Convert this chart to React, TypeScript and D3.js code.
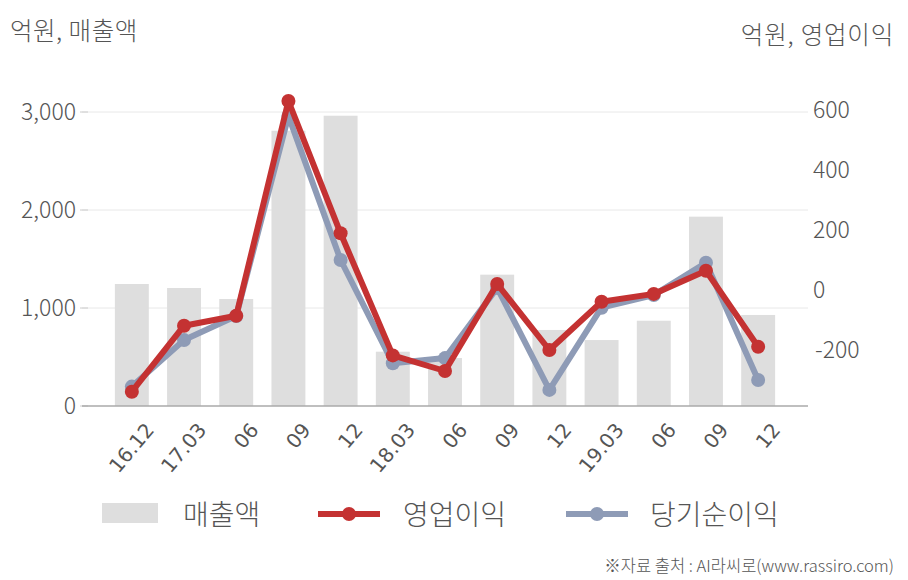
import React from "react";
import * as d3 from "d3";

const categories = ["16.12", "17.03", "06", "09", "12", "18.03", "06", "09", "12", "19.03", "06", "09", "12"];
const sales = [1245, 1204, 1092, 2809, 2962, 554, 490, 1340, 776, 673, 870, 1932, 929];
const opProfit = [-339, -119, -86, 630, 189, -218, -270, 20, -200, -39, -13, 64, -189];
const netProfit = [-322, -167, -87, 580, 100, -244, -227, 7, -333, -59, -17, 91, -300];
const leftTicks = [0, 1000, 2000, 3000];
const rightTicks = [-200, 0, 200, 400, 600];

const W = 908, H = 580;
const FONT = "'Noto Sans CJK KR', 'Noto Sans', sans-serif";
const TEXT = "#555";
const RED = "#c43232";
const BLUE = "#8e9bb6";
const BAR = "#dedede";

export default function App() {
  const x = d3.scaleBand<number>().domain(d3.range(categories.length)).range([82, 808]).paddingInner(0.35).paddingOuter(0.63);
  const yL = d3.scaleLinear().domain([0, 3000]).range([406, 112]);
  const yR = d3.scaleLinear().domain([0, 600]).range([290, 110]);
  const cx = (i: number) => (x(i) as number) + x.bandwidth() / 2;
  const lineR = d3.line<number>().x((_, i) => cx(i)).y((d) => yR(d));

  return (
    <svg width={W} height={H} style={{ position: "absolute", left: 0, top: 0, background: "#fff" }} fontFamily={FONT} fontWeight={300}>
      <text x={10} y={31} dy="0.35em" fontSize={24.5} letterSpacing={0.5} fill={TEXT}>억원, 매출액</text>
      <text x={894} y={35} dy="0.35em" fontSize={24.5} letterSpacing={0.8} fill={TEXT} textAnchor="end">억원, 영업이익</text>

      {leftTicks.map((t) => (
        <g key={"l" + t}>
          {t > 0 && <line x1={82} x2={808} y1={yL(t)} y2={yL(t)} stroke="#e8e8e8" strokeWidth={1} />}
          <line x1={80} x2={88} y1={yL(t)} y2={yL(t)} stroke="#ccc" strokeWidth={1} />
          <text x={76} y={yL(t)} dy="0.35em" fontSize={23} fill={TEXT} textAnchor="end">{d3.format(",")(t)}</text>
        </g>
      ))}
      {rightTicks.map((t) => (
        <text key={"r" + t} x={t < 0 ? 815 : 813} y={yR(t)} dy="0.35em" fontSize={23} fill={TEXT}>{t}</text>
      ))}

      {sales.map((v, i) => (
        <rect key={"b" + i} x={x(i)} y={yL(v)} width={x.bandwidth()} height={yL(0) - yL(v)} fill={BAR} />
      ))}
      <line x1={82} x2={808} y1={yL(0)} y2={yL(0)} stroke="#aaa" strokeWidth={1.5} />

      <path d={lineR(netProfit) as string} fill="none" stroke={BLUE} strokeWidth={6} strokeLinejoin="round" />
      {netProfit.map((v, i) => (
        <circle key={"n" + i} cx={cx(i)} cy={yR(v)} r={7} fill={BLUE} />
      ))}
      <path d={lineR(opProfit) as string} fill="none" stroke={RED} strokeWidth={6} strokeLinejoin="round" />
      {opProfit.map((v, i) => (
        <circle key={"o" + i} cx={cx(i)} cy={yR(v)} r={7} fill={RED} />
      ))}

      {categories.map((c, i) => (
        <text key={"x" + i} transform={`translate(${cx(i) + 18},${426}) rotate(-50)`} dy="0.35em" fontSize={20} fill={TEXT} textAnchor="end" fontFamily="'DejaVu Sans', sans-serif" fontWeight={400}>{c}</text>
      ))}

      <rect x={102} y={503} width={56} height={20} fill={BAR} />
      <text x={183} y={515} dy="0.35em" fontSize={28} fill={TEXT}>매출액</text>
      <line x1={318} x2={380} y1={514} y2={514} stroke={RED} strokeWidth={6} />
      <circle cx={349} cy={514} r={7} fill={RED} />
      <text x={403} y={515} dy="0.35em" fontSize={28} fill={TEXT}>영업이익</text>
      <line x1={566} x2={628} y1={514} y2={514} stroke={BLUE} strokeWidth={6} />
      <circle cx={597} cy={514} r={7} fill={BLUE} />
      <text x={650} y={515} dy="0.35em" fontSize={28} fill={TEXT}>당기순이익</text>

      <text x={894} y={566} dy="0.35em" fontSize={16.5} fill={TEXT} textAnchor="end">※자료 출처 : AI라씨로(www.rassiro.com)</text>
    </svg>
  );
}
